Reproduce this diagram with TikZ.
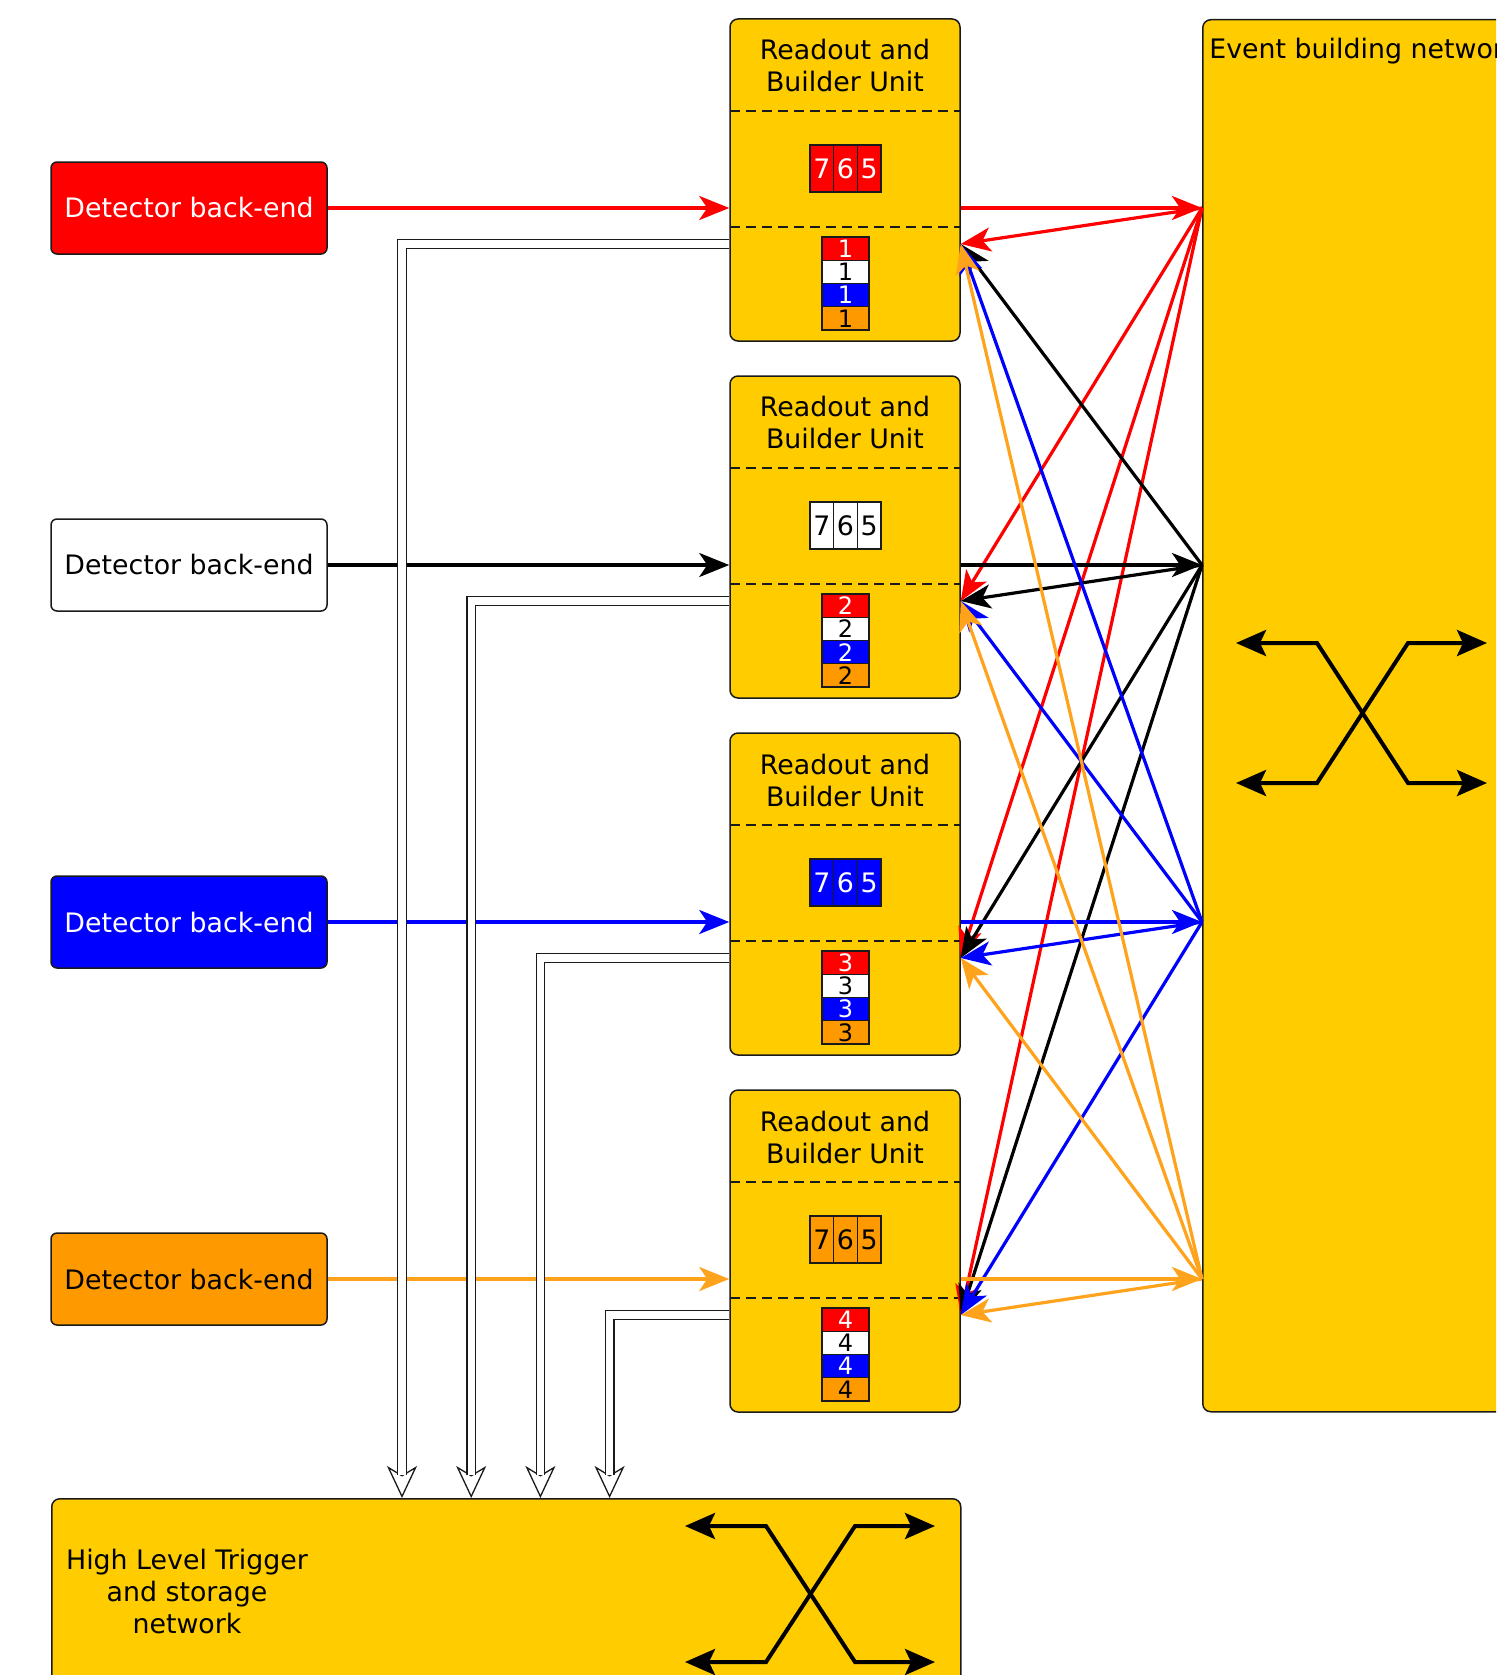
\documentclass[tikz,border=0pt]{standalone}
\usepackage{fontspec}
\setmainfont{DejaVu Sans}
\usetikzlibrary{arrows.meta,calc}
\definecolor{unitfill}{HTML}{FFCC00}
\definecolor{fragred}{HTML}{FF0000}
\definecolor{fragblue}{HTML}{0000FF}
\definecolor{fragorange}{HTML}{FF9900}
\definecolor{linkorange}{HTML}{FFA21C}
\definecolor{edge}{HTML}{1A1A1A}
\begin{document}
\begin{tikzpicture}[x=0.5pt,y=-0.5pt,
  font=\fontsize{13.4}{16}\selectfont,
  backend/.style={draw=edge, line width=0.75pt, rounded corners=3pt,
    minimum width=138pt, minimum height=46pt, inner sep=0pt},
  unit/.style={draw=edge, fill=unitfill, line width=0.75pt, rounded corners=4pt,
    inner sep=0pt},
  splitline/.style={draw=edge, line width=0.75pt, dash pattern=on 5pt off 3pt},
  cell/.style={draw=edge, line width=0.7pt, minimum width=11.85pt,
    minimum height=23.5pt, inner sep=0pt},
  bcell/.style={draw=edge, line width=0.7pt, minimum width=23.5pt,
    minimum height=11.62pt, inner sep=0pt, font=\fontsize{12}{12}\selectfont},
  link/.style={line width=1.6pt, -{Stealth[length=15pt,width=12pt,inset=4pt]}},
  hollowtip/.style={draw=edge, line width=0.65pt,
    -{Stealth[open,fill=white,length=16pt,width=15pt,inset=4.5pt]}},
  dblline/.style={draw=edge, double=white, line width=0.65pt,
    double distance=3.6pt, shorten >=11.5pt},
  swarrow/.style={line width=2pt,
    {Stealth[length=15pt,width=13pt,inset=3pt]}-{Stealth[length=15pt,width=13pt,inset=3pt]}}
]
\useasboundingbox (0,0) rectangle (1496,1675);
\clip (0,0) rectangle (1496,1675);

% event building network
\node[unit, anchor=north west, minimum width=179pt, minimum height=696pt] (ebn) at (1202,19) {};
\node[anchor=base west, inner sep=0pt] (ebntitle) at (1209,59) {Event building network};
\draw[swarrow] (1236,643) -- (1317,643) -- (1408,783) -- (1487,783);
\draw[swarrow] (1236,783) -- (1317,783) -- (1408,643) -- (1487,643);

% high level trigger and storage network
\node[unit, anchor=north west, minimum width=454.5pt, minimum height=150pt] (hlt) at (51,1498) {};
\node[align=center, inner sep=0pt] (hlttitle) at (187,1591) {High Level Trigger\\and storage\\network};
\draw[swarrow] (685,1526) -- (766,1526) -- (855,1662) -- (935,1662);
\draw[swarrow] (685,1662) -- (766,1662) -- (855,1526) -- (935,1526);

% back-ends, readout and builder units
\foreach \i/\col/\txt in {0/fragred/white,1/white/black,2/fragblue/white,3/fragorange/black}{
  \node[backend, fill=\col, text=\txt] (det\i) at (189,{208+357*\i}) {Detector back-end};
  \node[unit, minimum width=115pt, minimum height=161pt] (ru\i) at (845,{180+357*\i}) {};
  \node[align=center, inner sep=0pt] (title\i) at (845,{66+357*\i}) {Readout and\\Builder Unit};
  \draw[splitline] (730,{111+357*\i}) -- (960,{111+357*\i});
  \draw[splitline] (730,{227+357*\i}) -- (960,{227+357*\i});
  % readout buffer
  \node[cell, fill=\col, text=\txt] (rd\i a) at (821.8,{168.5+357*\i}) {7};
  \node[cell, fill=\col, text=\txt] (rd\i b) at (845.5,{168.5+357*\i}) {6};
  \node[cell, fill=\col, text=\txt] (rd\i c) at (869.2,{168.5+357*\i}) {5};
  \pgfmathtruncatemacro{\n}{\i+1}
  % builder fragments
  \node[bcell, fill=fragred, text=white] (bd\i a) at (845.5,{248.6+357*\i}) {\n};
  \node[bcell, fill=white, text=black] (bd\i b) at (845.5,{271.9+357*\i}) {\n};
  \node[bcell, fill=fragblue, text=white] (bd\i c) at (845.5,{295.1+357*\i}) {\n};
  \node[bcell, fill=fragorange, text=black] (bd\i d) at (845.5,{318.4+357*\i}) {\n};
  \coordinate (bp\i) at ($(ru\i.east)+(0,{244-180})$);
  \coordinate (tap\i) at ($(ru\i.west)+(0,{244-180})$);
  \coordinate (hub\i) at (ebn.west |- det\i.east);
  \coordinate (drop\i) at ($(hlt.north west)+({351+69.2*\i},0)$);
}

% data flow through the event building network
\foreach \i/\lc in {0/fragred,1/black,2/fragblue,3/linkorange}{
  \draw[link, \lc] (det\i.east) -- (det\i.east -| ru\i.west);
  \draw[link, \lc] (det\i.east -| ru\i.east) -- (hub\i);
  \foreach \j in {0,...,3}{
    \draw[link, \lc] (hub\i) -- (bp\j);
  }
}

% events handed to the trigger farm
\foreach \i in {0,...,3}{
  \draw[hollowtip] (tap\i) -| (drop\i);
  \draw[dblline] (tap\i) -| (drop\i);
}
\end{tikzpicture}
\end{document}
